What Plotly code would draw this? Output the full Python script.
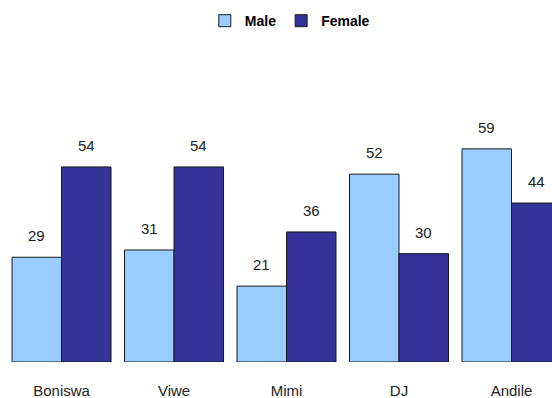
import plotly.graph_objects as go

names = ["Boniswa", "Viwe", "Mimi", "DJ", "Andile"]
male = [29, 31, 21, 52, 59]
female = [54, 54, 36, 30, 44]

MALE_COLOR = "#99CCFF"
FEMALE_COLOR = "#333399"
OUTLINE = "#1a1a1a"
FONT = "Liberation Sans, Arial, sans-serif"

BARGAP = 0.12
half = (1 - BARGAP) / 4  # centre offset of each bar within its group

fig = go.Figure()
fig.add_trace(go.Bar(name="Male", x=names, y=male,
                     marker=dict(color=MALE_COLOR, line=dict(color=OUTLINE, width=1))))
fig.add_trace(go.Bar(name="Female", x=names, y=female,
                     marker=dict(color=FEMALE_COLOR, line=dict(color=OUTLINE, width=1))))

# value labels above each bar
annotations = []
for i, (m, f) in enumerate(zip(male, female)):
    for off, v in ((-half, m), (half, f)):
        annotations.append(dict(
            x=i + off, y=v, xref="x", yref="y", text=str(v), showarrow=False,
            yanchor="bottom", yshift=11,
            font=dict(family=FONT, size=15, color="#222222")))

fig.update_layout(
    width=552, height=398,
    margin=dict(l=0, r=0, t=73, b=36, autoexpand=False),
    paper_bgcolor="white", plot_bgcolor="white",
    barmode="group", bargap=BARGAP, bargroupgap=0,
    font=dict(family=FONT, size=15, color="#222222"),
    showlegend=True,
    legend=dict(orientation="h", x=0.525, xanchor="center", y=1.235, yanchor="top",
                font=dict(family=FONT, size=14, color="#000000", weight="bold"),
                itemwidth=30, bgcolor="rgba(0,0,0,0)"),
    annotations=annotations,
)
fig.update_xaxes(range=[-0.547, 4.36], showgrid=False, showline=False, zeroline=False,
                 ticks="", ticklabelstandoff=18, automargin=False,
                 tickfont=dict(family=FONT, size=15, color="#222222"))
fig.update_yaxes(range=[0, 80], visible=False, showgrid=False, zeroline=False,
                 automargin=False)

fig.write_html("out.html")
